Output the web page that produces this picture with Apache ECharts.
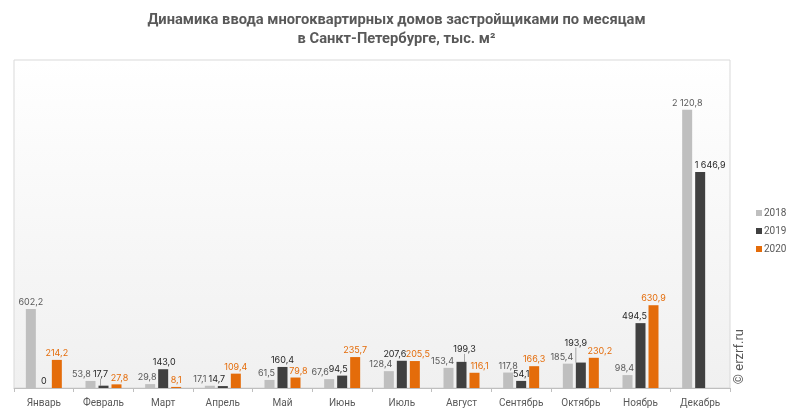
<!DOCTYPE html>
<html>
<head>
<meta charset="utf-8">
<script src="https://cdn.jsdelivr.net/npm/echarts@6/dist/echarts.min.js"></script>
<style>
html,body{margin:0;padding:0;background:#fff;}
#chart{width:793px;height:415px;}
</style>
</head>
<body>
<div id="chart"></div>
<script>
const months = ['Январь','Февраль','Март','Апрель','Май','Июнь','Июль','Август','Сентябрь','Октябрь','Ноябрь','Декабрь'];
const seriesNames = ['2018','2019','2020'];
const values2018 = [602.2, 53.8, 29.8, 17.1, 61.5, 67.6, 128.4, 153.4, 117.8, 185.4, 98.4, 2120.8];
const values2019 = [0, 17.7, 143.0, 14.7, 160.4, 94.5, 207.6, 199.3, 54.1, 193.9, 494.5, 1646.9];
const values2020 = [214.2, 27.8, 8.1, 109.4, 79.8, 235.7, 205.5, 116.1, 166.3, 230.2, 630.9, null];
const titleText = 'Динамика ввода многоквартирных домов застройщиками по месяцам\nв Санкт-Петербурге, тыс. м²';
const watermark = '© erzrf.ru';

function fmt(v){
  if (v === 0) return '0';
  let s = v.toFixed(1);
  let [i, d] = s.split('.');
  i = i.replace(/\B(?=(\d{3})+(?!\d))/g, ' ');
  return i + ',' + d;
}

const colors = ['#BFBFBF', '#404040', '#E46C0A'];
const labelColors = ['#595959', '#262626', '#E46C0A'];
const allValues = [values2018, values2019, values2020];

// label nudges (series index -> month index -> [dx, dy]), mimicking the reference label placement
const labelNudge = {
  0: {1: [-9, 0], 2: [-3, 0], 3: [-10, 0], 4: [-3, 0], 5: [-9, 0], 6: [-8, 0], 7: [-6, 0], 9: [-6, 0], 10: [-3, 0]},
  1: {1: [-3, -5], 2: [1, 0], 3: [-6, 0], 5: [-4, 0], 6: [-7, 0], 7: [3, -6], 9: [-5, -13], 10: [-6, 0], 11: [10, 0]},
  2: {1: [3, 0], 4: [3, 0], 6: [3, 0], 7: [5, 0], 9: [6, 0]}
};
const leaderLines = {1: [1, 7, 9]};

const chart = echarts.init(document.getElementById('chart'));
chart.setOption({
  animation: false,
  textStyle: {fontFamily: 'Roboto'},
  title: {
    text: titleText,
    left: 'center',
    top: 6,
    textStyle: {fontFamily: 'Roboto', fontSize: 14.7, fontWeight: 'bold', color: '#595959', lineHeight: 19}
  },
  legend: {
    orient: 'vertical',
    left: 751,
    top: 203,
    itemWidth: 6,
    itemHeight: 6,
    itemGap: 8,
    icon: 'rect',
    textStyle: {fontSize: 10, color: '#595959', padding: [0,0,0,-3]},
    data: seriesNames
  },
  grid: {
    left: 14, right: 63, top: 60, bottom: 27,
    show: true,
    borderColor: '#D9D9D9',
    borderWidth: 1,
    backgroundColor: new echarts.graphic.LinearGradient(0,0,0,1,[
      {offset:0, color:'#FFFFFF'},
      {offset:1, color:'#F0F0F0'}
    ])
  },
  xAxis: {
    type: 'category',
    data: months,
    axisLine: {lineStyle: {color: '#BFBFBF'}},
    axisTick: {show: true, length: 4, lineStyle: {color: '#BFBFBF'}},
    axisLabel: {fontSize: 10, color: '#595959', margin: 10}
  },
  yAxis: {
    type: 'value',
    min: 0, max: 2500,
    show: false,
    splitLine: {show: false}
  },
  graphic: [{
    type: 'text',
    left: 733,
    top: 329,
    rotation: Math.PI/2,
    style: {text: watermark, fontSize: 13, fill: '#595959', fontFamily: 'Roboto'}
  }],
  series: seriesNames.map((name, k) => ({
    name: name,
    type: 'bar',
    barWidth: 10,
    barGap: '30%',
    data: allValues[k].map((v, i) => ({
      value: v,
      labelLine: {show: !!(leaderLines[k] && leaderLines[k].includes(i))}
    })),
    itemStyle: {color: colors[k]},
    label: {
      show: true,
      position: 'top',
      distance: 2,
      fontSize: 9,
      fontFamily: 'Inter',
      color: labelColors[k],
      formatter: p => (p.value == null ? '' : fmt(p.value))
    },
    labelLine: {show: false, lineStyle: {color: '#A6A6A6', width: 1}},
    labelLayout: function (params) {
      const n = labelNudge[k] && labelNudge[k][params.dataIndex];
      if (!n) return {};
      return {dx: n[0], dy: n[1]};
    }
  }))
});
</script>
</body>
</html>
